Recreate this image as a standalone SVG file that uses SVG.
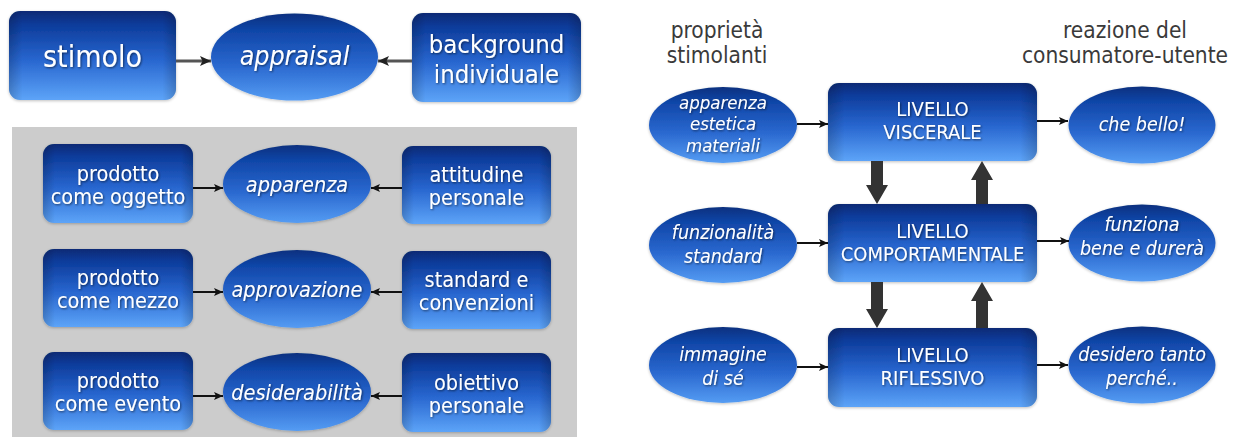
<svg xmlns="http://www.w3.org/2000/svg" width="1238" height="437" viewBox="0 0 1238 437">
  <defs>
    <linearGradient id="boxGrad" x1="0" y1="0" x2="0" y2="1">
      <stop offset="0" stop-color="#072a75"/>
      <stop offset="0.15" stop-color="#0c3b9a"/>
      <stop offset="0.55" stop-color="#2866cf"/>
      <stop offset="1" stop-color="#5da4f8"/>
    </linearGradient>
    <linearGradient id="ellGrad" x1="0" y1="0" x2="0" y2="1">
      <stop offset="0" stop-color="#08307f"/>
      <stop offset="0.2" stop-color="#1046a8"/>
      <stop offset="0.6" stop-color="#2a68cf"/>
      <stop offset="1" stop-color="#559cf3"/>
    </linearGradient>
    <linearGradient id="edgeShade" x1="0" y1="0" x2="1" y2="0">
      <stop offset="0" stop-color="#000" stop-opacity="0.18"/>
      <stop offset="0.08" stop-color="#000" stop-opacity="0"/>
      <stop offset="0.92" stop-color="#000" stop-opacity="0"/>
      <stop offset="1" stop-color="#000" stop-opacity="0.18"/>
    </linearGradient>
    <marker id="head" markerUnits="userSpaceOnUse" markerWidth="10" markerHeight="10" refX="9" refY="5" orient="auto">
      <path d="M0,1 L9,5 L0,9 L2,5 z" fill="#111"/>
    </marker>
    <marker id="headGray" markerUnits="userSpaceOnUse" markerWidth="12" markerHeight="12" refX="11" refY="6" orient="auto">
      <path d="M0,1 L11,6 L0,11 L2.5,6 z" fill="#222"/>
    </marker>
    <!-- faint drop shadow under the shapes -->
    <filter id="soft" x="-10%" y="-10%" width="120%" height="120%">
      <feGaussianBlur in="SourceAlpha" stdDeviation="1.5"/>
      <feOffset dx="0" dy="1" result="b"/>
      <feComponentTransfer><feFuncA type="linear" slope="0.25"/></feComponentTransfer>
      <feMerge><feMergeNode/><feMergeNode in="SourceGraphic"/></feMerge>
    </filter>
    <!-- dark halo behind the white labels -->
    <filter id="halo" x="-10%" y="-30%" width="120%" height="160%">
      <feGaussianBlur in="SourceAlpha" stdDeviation="1"/>
      <feOffset dx="0.5" dy="0.8"/>
      <feComponentTransfer><feFuncA type="linear" slope="0.55"/></feComponentTransfer>
      <feMerge><feMergeNode/><feMergeNode in="SourceGraphic"/></feMerge>
    </filter>
  </defs>
  <style>
    .box { fill: url(#boxGrad); }
    .ell { fill: url(#ellGrad); }
    .shade { fill: url(#edgeShade); }
    text { font-family: "DejaVu Sans Condensed", "DejaVu Sans", sans-serif; font-stretch: condensed; fill: #ffffff; text-anchor: middle; }
    .lbl { filter: url(#halo); }
    .it { font-style: italic; }
    .hdr { fill: #3a3a3a; font-size: 22.5px; }
    .row { font-size: 21.5px; }
    .lvl { font-size: 20px; }
    .sm { font-size: 19.5px; font-style: italic; }
    .sm3 { font-size: 18.5px; font-style: italic; }
    .thin { stroke: #111; stroke-width: 2; fill: none; marker-end: url(#head); }
    .grayline { stroke: #555; stroke-width: 3; fill: none; marker-end: url(#headGray); }
    .thick { fill: #333; }
  </style>

  <rect width="1238" height="437" fill="#ffffff"/>

  <!-- top row: stimolo / appraisal / background -->
  <g id="stimolo" filter="url(#soft)">
    <rect class="box" x="9" y="11" width="167" height="89" rx="11"/>
    <rect class="shade" x="9" y="11" width="167" height="89" rx="11"/>
    <g class="lbl"><text x="92.5" y="67" font-size="30">stimolo</text></g>
  </g>
  <g id="appraisal" filter="url(#soft)">
    <ellipse class="ell" cx="294.5" cy="57" rx="83.5" ry="43.5"/>
    <g class="lbl"><text class="it" x="294.5" y="65" font-size="26.5">appraisal</text></g>
  </g>
  <g id="background" filter="url(#soft)">
    <rect class="box" x="412" y="13" width="169" height="89" rx="11"/>
    <rect class="shade" x="412" y="13" width="169" height="89" rx="11"/>
    <g class="lbl">
      <text x="496.5" y="53" font-size="25.5">background</text>
      <text x="496.5" y="83" font-size="25.5">individuale</text>
    </g>
  </g>

  <!-- grey panel -->
  <rect id="panel" x="12" y="127" width="565" height="310" fill="#cccccc"/>

  <!-- panel row 1 -->
  <g id="oggetto" filter="url(#soft)">
    <rect class="box" x="43" y="144" width="150" height="79" rx="11"/>
    <rect class="shade" x="43" y="144" width="150" height="79" rx="11"/>
    <g class="lbl">
      <text class="row" x="118" y="180.5">prodotto</text>
      <text class="row" x="118" y="203.5">come oggetto</text>
    </g>
  </g>
  <g id="apparenza" filter="url(#soft)">
    <ellipse class="ell" cx="297" cy="184" rx="74" ry="39"/>
    <g class="lbl"><text class="row it" x="297" y="192">apparenza</text></g>
  </g>
  <g id="attitudine" filter="url(#soft)">
    <rect class="box" x="402" y="146" width="149" height="78" rx="11"/>
    <rect class="shade" x="402" y="146" width="149" height="78" rx="11"/>
    <g class="lbl">
      <text class="row" x="476.5" y="182">attitudine</text>
      <text class="row" x="476.5" y="205">personale</text>
    </g>
  </g>

  <!-- panel row 2 -->
  <g id="mezzo" filter="url(#soft)">
    <rect class="box" x="43" y="249" width="150" height="78" rx="11"/>
    <rect class="shade" x="43" y="249" width="150" height="78" rx="11"/>
    <g class="lbl">
      <text class="row" x="118" y="285">prodotto</text>
      <text class="row" x="118" y="308">come mezzo</text>
    </g>
  </g>
  <g id="approvazione" filter="url(#soft)">
    <ellipse class="ell" cx="297" cy="289" rx="74" ry="39"/>
    <g class="lbl"><text class="row it" x="297" y="297">approvazione</text></g>
  </g>
  <g id="standard" filter="url(#soft)">
    <rect class="box" x="402" y="251" width="149" height="78" rx="11"/>
    <rect class="shade" x="402" y="251" width="149" height="78" rx="11"/>
    <g class="lbl">
      <text class="row" x="476.5" y="287">standard e</text>
      <text class="row" x="476.5" y="310">convenzioni</text>
    </g>
  </g>

  <!-- panel row 3 -->
  <g id="evento" filter="url(#soft)">
    <rect class="box" x="43" y="352" width="150" height="78" rx="11"/>
    <rect class="shade" x="43" y="352" width="150" height="78" rx="11"/>
    <g class="lbl">
      <text class="row" x="118" y="388">prodotto</text>
      <text class="row" x="118" y="411">come evento</text>
    </g>
  </g>
  <g id="desiderabilita" filter="url(#soft)">
    <ellipse class="ell" cx="297" cy="392" rx="74" ry="39"/>
    <g class="lbl"><text class="row it" x="297" y="400">desiderabilità</text></g>
  </g>
  <g id="obiettivo" filter="url(#soft)">
    <rect class="box" x="402" y="353" width="149" height="79" rx="11"/>
    <rect class="shade" x="402" y="353" width="149" height="79" rx="11"/>
    <g class="lbl">
      <text class="row" x="476.5" y="389.5">obiettivo</text>
      <text class="row" x="476.5" y="412.5">personale</text>
    </g>
  </g>

  <!-- column headings -->
  <g id="hdr-left">
    <text class="hdr" x="717" y="38">proprietà</text>
    <text class="hdr" x="717" y="63">stimolanti</text>
  </g>
  <g id="hdr-right">
    <text class="hdr" x="1125" y="38">reazione del</text>
    <text class="hdr" x="1125" y="63">consumatore-utente</text>
  </g>

  <!-- stimulating properties -->
  <g id="estetica" filter="url(#soft)">
    <ellipse class="ell" cx="723" cy="125" rx="74" ry="38"/>
    <g class="lbl">
      <text class="sm3" x="723" y="108.5">apparenza</text>
      <text class="sm3" x="723" y="130">estetica</text>
      <text class="sm3" x="723" y="151.5">materiali</text>
    </g>
  </g>
  <g id="funzionalita" filter="url(#soft)">
    <ellipse class="ell" cx="723" cy="245" rx="74" ry="38"/>
    <g class="lbl">
      <text class="sm" x="723" y="239">funzionalità</text>
      <text class="sm" x="723" y="263">standard</text>
    </g>
  </g>
  <g id="immagine" filter="url(#soft)">
    <ellipse class="ell" cx="723" cy="365" rx="74" ry="38"/>
    <g class="lbl">
      <text class="sm" x="723" y="361">immagine</text>
      <text class="sm" x="723" y="385">di sé</text>
    </g>
  </g>

  <!-- processing levels -->
  <g id="viscerale" filter="url(#soft)">
    <rect class="box" x="828" y="83" width="209" height="78" rx="11"/>
    <rect class="shade" x="828" y="83" width="209" height="78" rx="11"/>
    <g class="lbl">
      <text class="lvl" x="932.5" y="116">LIVELLO</text>
      <text class="lvl" x="932.5" y="139">VISCERALE</text>
    </g>
  </g>
  <g id="comportamentale" filter="url(#soft)">
    <rect class="box" x="828" y="204" width="209" height="78" rx="11"/>
    <rect class="shade" x="828" y="204" width="209" height="78" rx="11"/>
    <g class="lbl">
      <text class="lvl" x="932.5" y="238">LIVELLO</text>
      <text class="lvl" x="932.5" y="261">COMPORTAMENTALE</text>
    </g>
  </g>
  <g id="riflessivo" filter="url(#soft)">
    <rect class="box" x="828" y="328" width="209" height="79" rx="11"/>
    <rect class="shade" x="828" y="328" width="209" height="79" rx="11"/>
    <g class="lbl">
      <text class="lvl" x="932.5" y="362">LIVELLO</text>
      <text class="lvl" x="932.5" y="385">RIFLESSIVO</text>
    </g>
  </g>

  <!-- user reactions -->
  <g id="bello" filter="url(#soft)">
    <ellipse class="ell" cx="1142" cy="125" rx="73.5" ry="38.5"/>
    <g class="lbl"><text class="sm" x="1142" y="131">che bello!</text></g>
  </g>
  <g id="funziona" filter="url(#soft)">
    <ellipse class="ell" cx="1142" cy="243" rx="73.5" ry="38.5"/>
    <g class="lbl">
      <text class="sm" x="1142" y="231">funziona</text>
      <text class="sm" x="1142" y="255">bene e durerà</text>
    </g>
  </g>
  <g id="desidero" filter="url(#soft)">
    <ellipse class="ell" cx="1142" cy="365" rx="73.5" ry="38.5"/>
    <g class="lbl">
      <text class="sm" x="1142" y="361">desidero tanto</text>
      <text class="sm" x="1142" y="385">perché..</text>
    </g>
  </g>

  <!-- connectors -->
  <g id="connectors">
    <line class="grayline" x1="176" y1="61" x2="211" y2="61"/>
    <line class="grayline" x1="412" y1="61" x2="378" y2="61"/>

    <line class="thin" x1="193" y1="188" x2="223" y2="188"/>
    <line class="thin" x1="402" y1="188" x2="371" y2="188"/>
    <line class="thin" x1="193" y1="292" x2="223" y2="292"/>
    <line class="thin" x1="402" y1="292" x2="371" y2="292"/>
    <line class="thin" x1="193" y1="396" x2="223" y2="396"/>
    <line class="thin" x1="402" y1="396" x2="371" y2="396"/>

    <line class="thin" x1="797" y1="124" x2="828" y2="124"/>
    <line class="thin" x1="797" y1="243" x2="828" y2="243"/>
    <line class="thin" x1="797" y1="367" x2="828" y2="367"/>
    <line class="thin" x1="1037" y1="121" x2="1068" y2="121"/>
    <line class="thin" x1="1037" y1="241" x2="1069" y2="241"/>
    <line class="thin" x1="1037" y1="365" x2="1068" y2="365"/>

    <!-- block arrows between levels -->
    <polygon class="thick" points="871,161 883,161 883,185 888,185 877,204 866,185 871,185"/>
    <polygon class="thick" points="976,204 988,204 988,180 993,180 982,161 971,180 976,180"/>
    <polygon class="thick" points="871,282 883,282 883,309 888,309 877,328 866,309 871,309"/>
    <polygon class="thick" points="976,328 988,328 988,301 993,301 982,282 971,301 976,301"/>
  </g>
</svg>
